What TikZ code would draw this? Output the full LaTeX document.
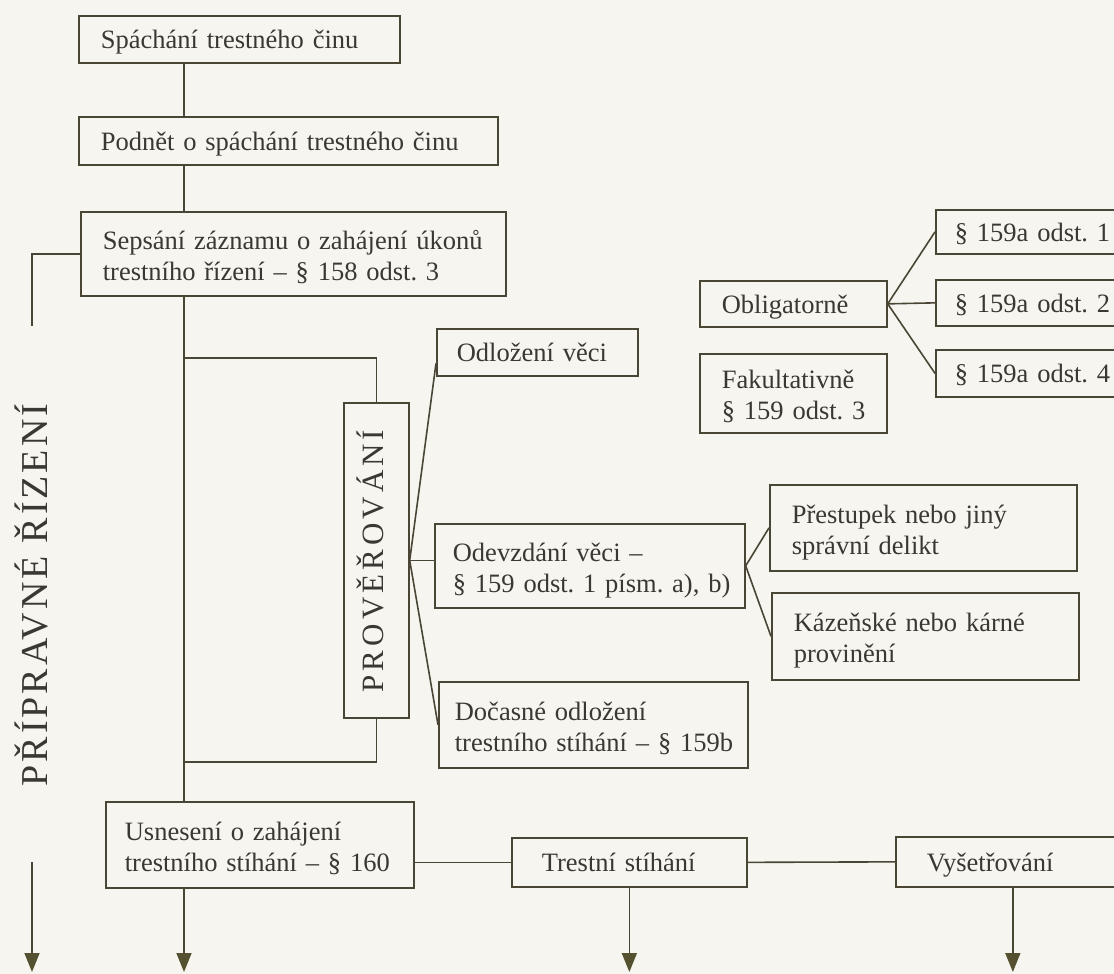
\documentclass[tikz,border=0pt]{standalone}
\usepackage{fontspec}
\setmainfont{Liberation Serif}
\usetikzlibrary{arrows.meta}
\definecolor{bg}{HTML}{F6F5F0}
\definecolor{lc}{HTML}{4A4636}
\definecolor{tc}{HTML}{3A3830}
\definecolor{ac}{HTML}{555030}
\begin{document}
\frenchspacing
\begin{tikzpicture}[x=1pt,y=-1pt,
  bx/.style={draw=lc, line width=1.7pt, anchor=north west, inner ysep=0pt, align=left, text=tc, font=\fontsize{26.5}{31}\selectfont},
  one/.style={bx, text depth=-3pt},
  two/.style={bx, text depth=28pt},
  ln/.style={draw=lc, line width=1.6pt},
  arr/.style={ln, -{Triangle[width=15pt,length=19pt,color=ac]}},
  vtext/.style={rotate=90, anchor=base, text=tc}
]
\fill[bg] (0,0) rectangle (1114,974);
\useasboundingbox (0,0) rectangle (1114,974);
\clip (0,0) rectangle (1114,974);

% boxes
\node[one, inner xsep=22pt, text width=277pt, minimum height=47pt] (b1) at (78,15) {Spáchání trestného činu};
\node[one, inner xsep=22pt, text width=375pt, minimum height=48pt] (b2) at (78,116) {Podnět o spáchání trestného činu};
\node[two, inner xsep=22pt, text width=381pt, minimum height=84pt] (b3) at (80,211) {\mbox{Sepsání záznamu o zahájení úkonů}\\\mbox{trestního řízení – § 158 odst. 3}};
\node[bx, inner sep=0pt, minimum width=65pt, minimum height=315pt] (prov) at (343,402) {};
\node[vtext, font=\fontsize{31}{31}\selectfont\addfontfeature{LetterSpace=13}] (provt) at (383,561) {PROVĚŘOVÁNÍ};
\node[one, inner xsep=20pt, text width=161pt, minimum height=47pt] (odl) at (436,328) {Odložení věci};
\node[two, inner xsep=18pt, text width=274pt, minimum height=84pt] (odev) at (434,523) {\mbox{Odevzdání věci –}\\\mbox{§ 159 odst. 1 písm. a), b)}};
\node[two, inner xsep=16pt, text width=277pt, minimum height=86pt] (doc) at (438,681) {\mbox{Dočasné odložení}\\\mbox{trestního stíhání – § 159b}};
\node[one, inner xsep=22pt, text width=143pt, minimum height=46pt] (obl) at (699,280) {Obligatorně};
\node[two, inner xsep=22pt, text width=143pt, minimum height=79pt] (fak) at (699,353) {Fakultativně\\\mbox{§ 159 odst. 3}};
\node[one, inner xsep=19pt, text width=162pt, minimum height=44pt] (p1) at (935,209) {\mbox{§ 159a odst. 1}};
\node[one, inner xsep=19pt, text width=162pt, minimum height=46pt] (p2) at (935,279) {\mbox{§ 159a odst. 2}};
\node[one, inner xsep=19pt, text width=162pt, minimum height=47pt] (p4) at (935,349) {\mbox{§ 159a odst. 4}};
\node[two, inner xsep=22pt, text width=263pt, minimum height=86pt] (pre) at (769,484) {\mbox{Přestupek nebo jiný}\\\mbox{správní delikt}};
\node[two, inner xsep=22pt, text width=263pt, minimum height=87pt] (kaz) at (771,592) {\mbox{Kázeňské nebo kárné}\\provinění};
\node[two, inner xsep=19pt, text width=270pt, minimum height=86pt] (usn) at (105,801) {\mbox{Usnesení o zahájení}\\\mbox{trestního stíhání – § 160}};
\node[one, inner xsep=30pt, text width=175pt, minimum height=49pt] (tre) at (511,837) {\mbox{Trestní stíhání}};
\node[one, inner xsep=31pt, text width=172pt, minimum height=50pt] (vys) at (895,836) {Vyšetřování};

\node[vtext, font=\fontsize{38}{38}\selectfont\addfontfeature{LetterSpace=8}] (ptitle) at (47,595) {PŘÍPRAVNÉ ŘÍZENÍ};

% helper coordinates
\coordinate (mx) at (184,0);
\coordinate (j1) at (184,358);
\coordinate (j2) at (184,762);
\coordinate (lb) at (32,326);
\coordinate (la1) at (32,862);
\coordinate (la2) at (32,972);

% main spine
\draw[ln] (b1.south -| mx) -- (b2.north -| mx);
\draw[ln] (b2.south -| mx) -- (b3.north -| mx);
\draw[ln] (b3.south -| mx) -- (usn.north -| mx);
\draw[ln] (j1) -| (prov.north);
\draw[ln] (prov.south) |- (j2);
\draw[ln] (b3.west) -| (lb);
\draw[arr] (la1) -- (la2);

% proverovani fan
\draw[ln] (prov.east) -- ([yshift=-11pt]odl.west);
\draw[ln] (prov.east) -- (prov.east -| odev.west);
\draw[ln] (prov.east) -- (doc.west);
\draw[ln] (odev.east) -- (pre.west);
\draw[ln] (odev.east) -- (kaz.west);

% obligatorne fan
\draw[ln] (obl.east) -- (p1.west);
\draw[ln] (obl.east) -- (p2.west);
\draw[ln] (obl.east) -- (p4.west);

% bottom row
\draw[ln] (usn.east |- tre.west) -- (tre.west);
\draw[ln] (tre.east) -- (vys.west);
\draw[arr] (usn.south -| mx) -- (mx |- la2);
\draw[arr] (tre.south) -- (tre.south |- la2);
\draw[arr] (vys.south) -- (vys.south |- la2);
\end{tikzpicture}
\end{document}
